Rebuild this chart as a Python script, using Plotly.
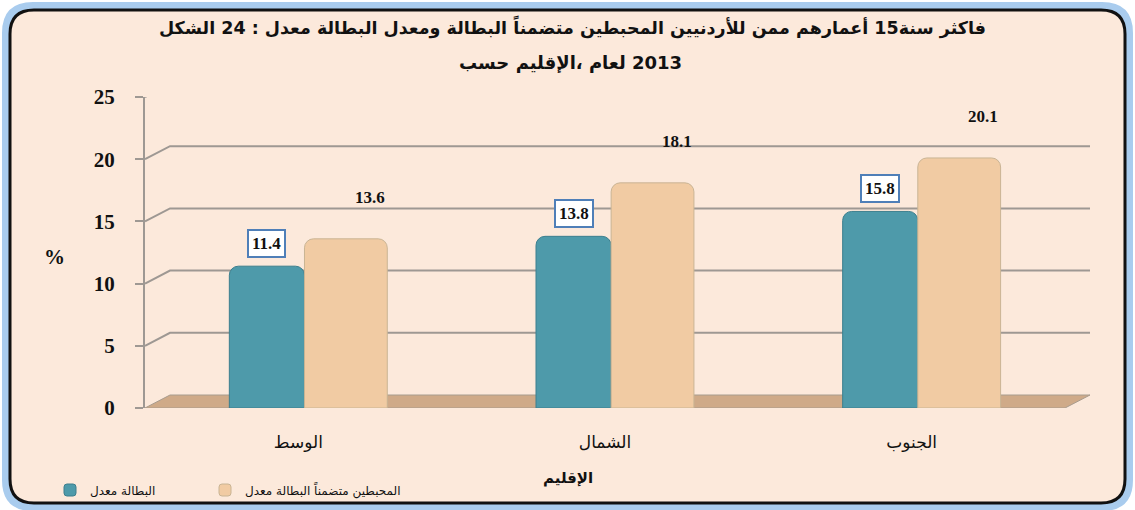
import plotly.graph_objects as go

# ---- data ----
categories = ["الوسط", "الشمال", "الجنوب"]
unemployment = [11.4, 13.8, 15.8]
unemployment_incl_discouraged = [13.6, 18.1, 20.1]
series_names = ["معدل البطالة", "معدل البطالة متضمناً المحبطين"]
y_ticks = [0, 5, 10, 15, 20, 25]
title_line1 = "الشكل 24 : معدل البطالة ومعدل البطالة متضمناً المحبطين للأردنيين ممن أعمارهم 15سنة فاكثر"
title_line2 = "حسب الإقليم، لعام 2013"
x_title = "الإقليم"
y_title = "%"


def bidi_safe(s):
    # wrap with bidi controls so Chrome lays the mixed Arabic/number run out in one line
    return "\u202a" + " \u200e".join(s.split(" ")) + "\u202c"


# ---- geometry helpers (pixel -> paper) ----
W, H = 1135, 510
L, R, T, B = 145, 70, 97, 102
PW, PH = W - L - R, H - T - B


def px(x):
    return (x - L) / PW


def py(y):
    return (H - B - y) / PH


YMAX = 25
unit_px = PH / YMAX
depth_x, depth_y = 25, 13  # 3D depth offset of the back wall
dy = depth_y / unit_px

TEAL = "#4E9AAA"
CREAM = "#F1CBA3"
BG = "#FCE9DB"
SERIF = "Liberation Serif, DejaVu Serif, serif"
ARABIC = "DejaVu Sans, Noto Sans, sans-serif"

# bar placement inside each category slot (axis units)
W_TEAL, OFF_TEAL = 0.245, -0.225
W_CREAM, OFF_CREAM = 0.27, 0.02

fig = go.Figure()
fig.add_trace(go.Bar(
    x=categories, y=unemployment, name=bidi_safe(series_names[0]), legend="legend",
    width=W_TEAL, offset=OFF_TEAL,
    marker=dict(color=TEAL, line=dict(color="#3C7F8E", width=1), cornerradius=9),
))
fig.add_trace(go.Bar(
    x=categories, y=unemployment_incl_discouraged, name=bidi_safe(series_names[1]),
    legend="legend2", width=W_CREAM, offset=OFF_CREAM,
    marker=dict(color=CREAM, line=dict(color="#C9B494", width=1), cornerradius=9),
))

shapes = []


def rrect(x0, y0, x1, y1, r):
    return (f"M {px(x0+r)},{py(y0)} L {px(x1-r)},{py(y0)} "
            f"Q {px(x1)},{py(y0)} {px(x1)},{py(y0+r)} "
            f"L {px(x1)},{py(y1-r)} Q {px(x1)},{py(y1)} {px(x1-r)},{py(y1)} "
            f"L {px(x0+r)},{py(y1)} Q {px(x0)},{py(y1)} {px(x0)},{py(y1-r)} "
            f"L {px(x0)},{py(y0+r)} Q {px(x0)},{py(y0)} {px(x0+r)},{py(y0)} Z")


# outer frame: glow + rounded border
shapes.append(dict(type="path", xref="paper", yref="paper", layer="below",
                   path=rrect(6, 6, 1129, 507, 27),
                   line=dict(color="#A9CCEE", width=8), fillcolor=BG))
shapes.append(dict(type="path", xref="paper", yref="paper", layer="below",
                   path=rrect(10, 10, 1125, 503, 24),
                   line=dict(color="#111111", width=3), fillcolor=BG))

# floor
shapes.append(dict(type="path", xref="paper", yref="y", layer="below",
                   path=(f"M {px(L)},0 L {px(L+depth_x)},{dy} L {px(W-R+depth_x)},{dy} "
                         f"L {px(W-R)},0 Z"),
                   line=dict(color="#A89C8E", width=1), fillcolor="#CFAA88"))
# back-wall gridlines with depth connectors
for v in y_ticks[1:]:
    shapes.append(dict(type="path", xref="paper", yref="y", layer="below",
                       path=(f"M {px(L)},{v} L {px(L+depth_x)},{v+dy} "
                             f"L {px(W-R+depth_x)},{v+dy}"),
                       line=dict(color="#9E9893", width=2)))

annotations = []
# value labels
c_teal = OFF_TEAL + W_TEAL / 2
c_cream = OFF_CREAM + W_CREAM / 2
for i, v in enumerate(unemployment):
    annotations.append(dict(x=i + c_teal, y=v, xref="x", yref="y", text=f"{v}",
                            showarrow=False, yanchor="bottom", yshift=8, xshift=0,
                            font=dict(family=SERIF, size=17, color="#111", weight="bold"),
                            bgcolor="white", bordercolor="#4F7FB8", borderwidth=2,
                            borderpad=3))
for i, v in enumerate(unemployment_incl_discouraged):
    annotations.append(dict(x=i + c_cream, y=v, xref="x", yref="y", text=f"{v}",
                            showarrow=False, yanchor="bottom", yshift=30, xshift=24,
                            font=dict(family=SERIF, size=17, color="#111", weight="bold")))
# title lines
annotations.append(dict(x=px(572), y=py(27), xref="paper", yref="paper",
                        text=bidi_safe(title_line1), showarrow=False, yanchor="middle",
                        font=dict(family=ARABIC, size=17.5, color="#111", weight="bold")))
annotations.append(dict(x=px(570), y=py(63), xref="paper", yref="paper",
                        text=bidi_safe(title_line2), showarrow=False, yanchor="middle",
                        font=dict(family=ARABIC, size=18, color="#111", weight="bold")))
# y title
annotations.append(dict(x=px(42), y=py(257), xref="paper", yref="paper",
                        text=y_title, showarrow=False, yanchor="middle",
                        font=dict(family=SERIF, size=21, color="#111", weight="bold")))
# x title
annotations.append(dict(x=px(568), y=py(478), xref="paper", yref="paper",
                        text=x_title, showarrow=False, yanchor="middle",
                        font=dict(family=ARABIC, size=15, color="#111", weight="bold")))

legend_common = dict(orientation="h", xanchor="left", yanchor="middle",
                     bgcolor="rgba(0,0,0,0)",
                     font=dict(family=ARABIC, size=12, color="#111"), itemwidth=30)

fig.update_layout(
    width=W, height=H,
    margin=dict(l=L, r=R, t=T, b=B, pad=0, autoexpand=False),
    paper_bgcolor="white", plot_bgcolor="rgba(0,0,0,0)",
    barmode="group",
    shapes=shapes, annotations=annotations,
    showlegend=True,
    legend=dict(x=px(50), y=py(490), **legend_common),
    legend2=dict(x=px(205), y=py(490), **legend_common),
    xaxis=dict(range=[-0.5, 2.5], showgrid=False, showline=False, zeroline=False,
               ticks="", ticklabelstandoff=22,
               tickfont=dict(family=ARABIC, size=17, color="#111")),
    yaxis=dict(range=[0, YMAX], tickvals=y_ticks, showgrid=False, zeroline=False,
               showline=True, linecolor="#9E9893", linewidth=2,
               ticks="outside", ticklen=8, tickcolor="#9E9893", tickwidth=2,
               tickfont=dict(family=SERIF, size=21, color="#111", weight="bold"),
               ticklabelstandoff=16),
)

fig.write_html("out.html", config={"displayModeBar": False},
               post_script="document.body.style.margin='0px';")
